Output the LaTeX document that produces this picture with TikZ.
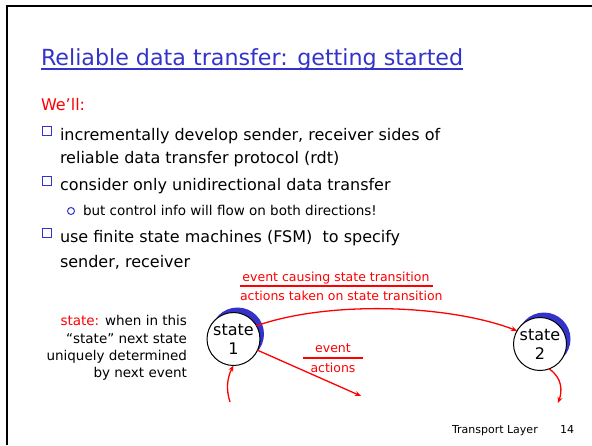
\documentclass[tikz,border=0pt]{standalone}
\usepackage{fontspec}
\setmainfont{DejaVu Sans}
\usetikzlibrary{positioning,arrows.meta,shadows}
\definecolor{slideblue}{RGB}{51,51,204}
\definecolor{slidered}{RGB}{255,0,0}

\begin{document}
\begin{tikzpicture}[x=1pt,y=-1pt,
    every node/.style={inner sep=0pt, outer sep=0pt},
    txt/.style={anchor=base west, font=\fontsize{16}{18}\selectfont},
    subtxt/.style={anchor=base west, font=\fontsize{13.5}{15}\selectfont},
    note/.style={anchor=base east, font=\fontsize{13.5}{15}\selectfont},
    redtxt/.style={text=slidered, font=\fontsize{12.5}{14}\selectfont},
    fsm/.style={circle, draw, line width=1pt, fill=white, minimum size=53pt, align=center,
      font=\fontsize{16}{18}\selectfont,
      general shadow={shadow xshift=4pt, shadow yshift=5pt, fill=slideblue}},
    trans/.style={draw=slidered, line width=1.3pt, -{Stealth[length=6pt,width=5pt]}},
    bul/.style={draw=slideblue, line width=1pt}]

  % slide frame
  \useasboundingbox (0,0) rectangle (592,445);
  \draw[line width=2.5pt] (7,445) -- (7,6) -- (592,6);

  % title
  \node[anchor=base west, text=slideblue, font=\fontsize{22.2}{26}\selectfont] (title) at (41,65)
    {Reliable data transfer: getting started};
  \draw[slideblue, line width=1.4pt] ([yshift=-4pt]title.base west) -- ([yshift=-4pt]title.base east);
  \node[anchor=base west, text=slidered, font=\fontsize{16}{18}\selectfont] (well) at (41,110) {We'll:};

  % bullets
  \node[txt] (b1) at (60,140) {incrementally develop sender, receiver sides of};
  \node[txt] (b1b) at (60,163) {reliable data transfer protocol (rdt)};
  \node[txt] (b2) at (60,190) {consider only unidirectional data transfer};
  \node[subtxt] (b2a) at (83,215) {but control info will flow on both directions!};
  \node[txt] (b3) at (60,242) {use finite state machines (FSM)\ \ to specify};
  \node[txt] (b3b) at (60,267) {sender, receiver};
  \foreach \y in {140,190,242}
    \draw[bul] (42.5,\y-14) rectangle (51.5,\y-5);
  \draw[bul] (71,211) circle (3.5);

  % left note
  \node[note] (n1) at (187,325) {\textcolor{slidered}{state:} when in this};
  \node[note] (n2) at (187,343) {``state'' next state};
  \node[note] (n3) at (187,360) {uniquely determined};
  \node[note] (n4) at (187,377) {by next event};

  % states
  \node[fsm] (s1) at (233.5,339) {state\\[1pt]1};
  \node[fsm] (s2) at (540,344) {state\\[1pt]2};
  \coordinate (in1) at (230,402);
  \coordinate (out1) at (361,396);
  \coordinate (out2) at (558,403);

  \draw[trans] (s1.30) .. controls (330,300) and (450,305) .. (s2.150);
  \draw[trans] (s1.-25) -- (out1);
  \draw[trans] (in1) .. controls (226,390) and (227,378) .. (s1.south);
  \draw[trans] (s2.-70) .. controls (563,378) and (562,392) .. (out2);

  % transition labels
  \node[redtxt, anchor=base] (ev) at (336,281) {event causing state transition};
  \draw[slidered, line width=1.2pt] (240,286) -- (433,286);
  \node[redtxt, anchor=base west] (ac) at (240,300) {actions taken on state transition};
  \node[redtxt, anchor=base] (ev2) at (333,352) {event};
  \draw[slidered, line width=1.2pt] (303,358) -- (363,358);
  \node[redtxt, anchor=base] (ac2) at (333,372) {actions};

  % footer
  \node[anchor=base west, font=\fontsize{11}{13}\selectfont] (foot) at (452,433) {Transport Layer};
  \node[anchor=base west, font=\fontsize{11}{13}\selectfont] (page) at (560,433) {14};
\end{tikzpicture}
\end{document}
